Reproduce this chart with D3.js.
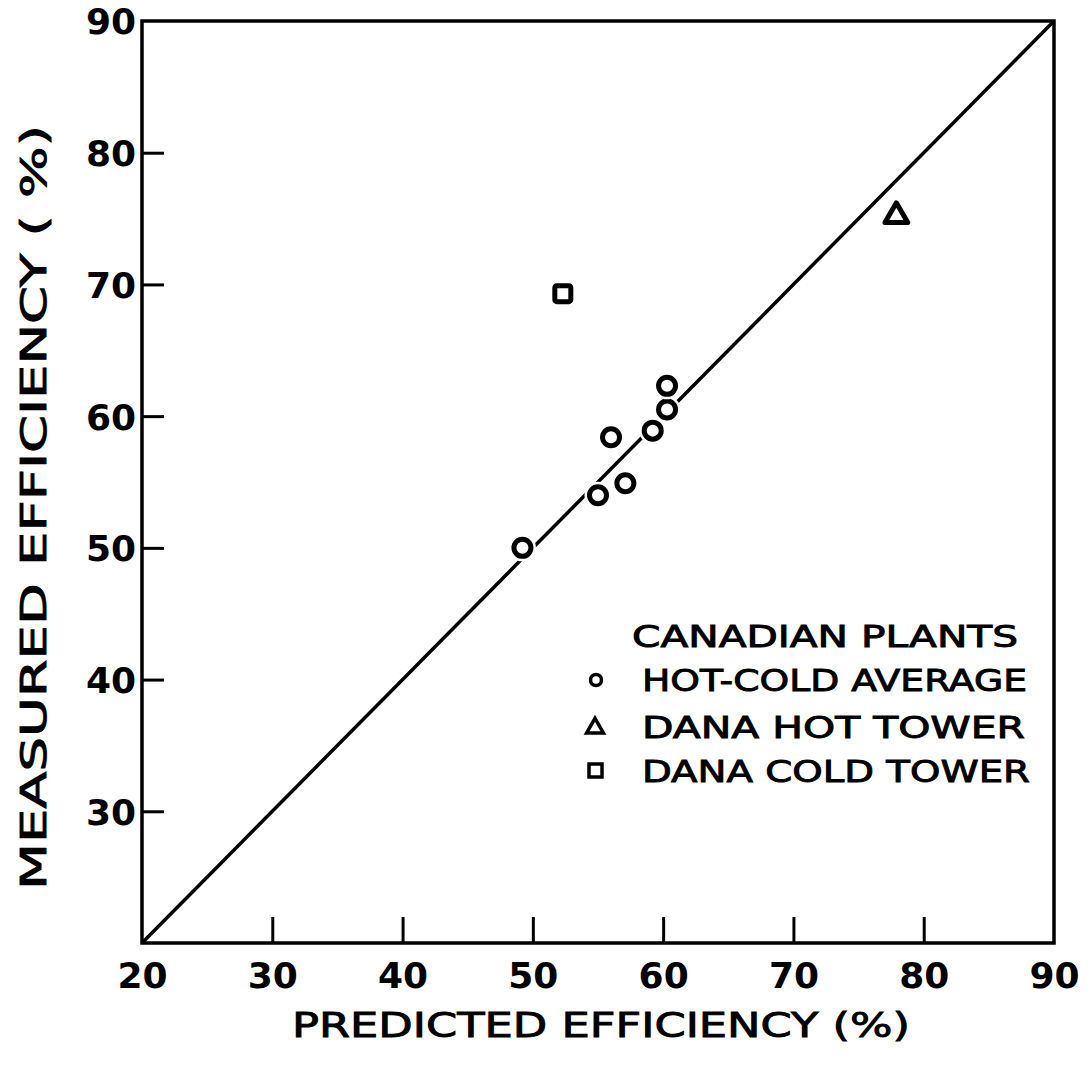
<!DOCTYPE html>
<html><head><meta charset="utf-8">
<script src="https://cdn.jsdelivr.net/npm/d3@7"></script>
<style>body{margin:0;background:#fff}</style>
</head><body>
<svg id="c" width="1091" height="1066"></svg>
<script>
const xTicks = [20,30,40,50,60,70,80,90];
const yTicks = [30,40,50,60,70,80,90];
const hotCold = [[49.2,50.0],[55.0,54.0],[57.1,54.9],[56.0,58.4],[59.2,58.9],[60.3,60.5],[60.3,62.3]];
const hotTower = [[77.9,75.3]];
const coldTower = [[52.3,69.3]];
const legendLabels = ["CANADIAN PLANTS","HOT-COLD AVERAGE","DANA HOT TOWER","DANA COLD TOWER"];
const parity = [[20,20],[90,90]];

const svg = d3.select("#c");
const L=142,R=1054,T=21,B=943;
const x = d3.scaleLinear().domain([20,90]).range([L,R]);
const y = d3.scaleLinear().domain([20,90]).range([B,T]);
const font = "DejaVu Sans";

svg.append("rect").attr("x",L).attr("y",T).attr("width",R-L).attr("height",B-T)
  .attr("fill","none").attr("stroke","#000").attr("stroke-width",3.5);

const gx = svg.append("g").attr("transform",`translate(0,${B})`)
  .call(d3.axisBottom(x).tickValues(xTicks).tickSize(-26).tickPadding(19).tickFormat(d3.format("d")));
gx.select(".domain").remove();
gx.selectAll(".tick line").attr("stroke-width",3).filter(d=>d===20||d===90).remove();
gx.selectAll("text").attr("font-family",font).attr("font-weight","bold").attr("font-size",36).attr("dy","0.71em").attr("fill","#000");

const gy = svg.append("g").attr("transform",`translate(${L},0)`)
  .call(d3.axisLeft(y).tickValues(yTicks).tickSize(-22).tickPadding(6).tickFormat(d3.format("d")));
gy.select(".domain").remove();
gy.selectAll(".tick line").attr("stroke-width",3).filter(d=>d===90).remove();
gy.selectAll("text").attr("font-family",font).attr("font-weight","bold").attr("font-size",36).attr("dy","0.36em").attr("fill","#000");

svg.append("line").attr("x1",x(parity[0][0])).attr("y1",y(parity[0][1]))
  .attr("x2",x(parity[1][0])).attr("y2",y(parity[1][1]))
  .attr("stroke","#000").attr("stroke-width",3.5);

const mk = svg.append("g");
function circ(g,cx,cy,r,sw){g.append("circle").attr("cx",cx).attr("cy",cy).attr("r",r+5).attr("fill","#fff");
  g.append("circle").attr("cx",cx).attr("cy",cy).attr("r",r).attr("fill","#fff").attr("stroke","#000").attr("stroke-width",sw);}
hotCold.forEach(d=>circ(mk,x(d[0]),y(d[1]),8.5,5));
const tri = (cx,cy,s)=>`M${cx},${cy-s*0.62}L${cx+s*0.6},${cy+s*0.42}L${cx-s*0.6},${cy+s*0.42}Z`;
hotTower.forEach(d=>{
  mk.append("path").attr("d",tri(x(d[0]),y(d[1]),19)).attr("fill","#fff").attr("stroke","#000").attr("stroke-width",5).attr("stroke-linejoin","round");
});
coldTower.forEach(d=>{
  mk.append("rect").attr("x",x(d[0])-8).attr("y",y(d[1])-8).attr("width",16).attr("height",16).attr("rx",2)
    .attr("fill","#fff").attr("stroke","#000").attr("stroke-width",5);
});

const lg = svg.append("g");
const txt = sel=>sel.attr("font-family",font).attr("font-size",30).attr("stroke","#000").attr("stroke-width",0.9).attr("lengthAdjust","spacingAndGlyphs");
lg.append("text").attr("x",632).attr("y",647).text(legendLabels[0]).attr("textLength",386).call(txt);
const rows=[{b:691,w:385},{b:738,w:383},{b:782,w:388}];
rows.forEach((r,i)=>{
  lg.append("text").attr("x",642).attr("y",r.b).text(legendLabels[i+1]).attr("textLength",r.w).call(txt);
});
circ(lg,596,680,5.5,3.5);
lg.append("path").attr("d",tri(595,727,14)).attr("fill","#fff").attr("stroke","#000").attr("stroke-width",3.5);
lg.append("rect").attr("x",589).attr("y",764).attr("width",13).attr("height",13).attr("fill","#fff").attr("stroke","#000").attr("stroke-width",3.5);

svg.append("text").attr("x",292).attr("y",1037).text("PREDICTED EFFICIENCY (%)")
  .attr("textLength",618).call(txt).attr("font-size",34);
svg.append("text").attr("transform","translate(46,890) rotate(-90)").text("MEASURED EFFICIENCY ( %)")
  .attr("textLength",765).call(txt).attr("font-size",35);
</script>
</body></html>
